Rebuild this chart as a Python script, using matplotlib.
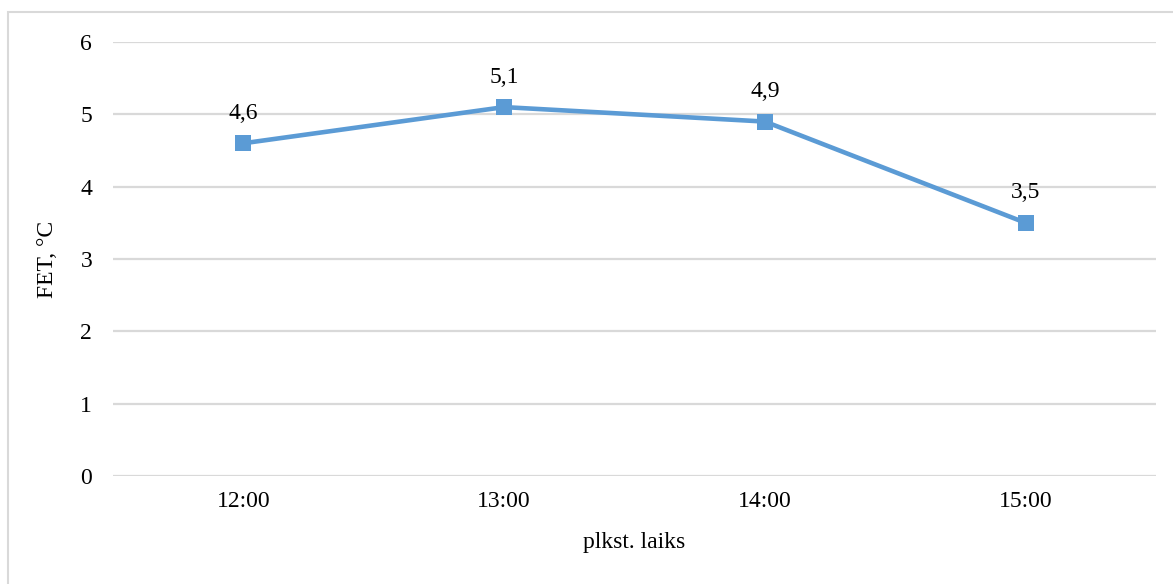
import matplotlib
matplotlib.use("Agg")
import matplotlib.pyplot as plt
from matplotlib.patches import Rectangle

times = ["12:00", "13:00", "14:00", "15:00"]
fet_values = [4.6, 5.1, 4.9, 3.5]
y_ticks = [0, 1, 2, 3, 4, 5, 6]

line_color = "#5B9BD5"
grid_color = "#D9D9D9"
fs = 17

plt.rcParams["font.family"] = ["Liberation Serif", "DejaVu Serif"]

W, H, DPI = 1173, 584, 100
fig = plt.figure(figsize=(W / DPI, H / DPI), dpi=DPI)
ax = fig.add_axes([113 / W, 1 - 476 / H, (1156 - 113) / W, (476 - 42) / H])

x = list(range(len(times)))
ax.plot(x, fet_values, color=line_color, lw=3.3, marker="s", markersize=12,
        markeredgewidth=0, solid_capstyle="round", zorder=3)

for xi, v in zip(x, fet_values):
    ax.annotate(f"{v:.1f}".replace(".", ","), (xi, v), xytext=(0, 14),
                textcoords="offset points", ha="center", va="bottom",
                fontsize=fs, color="#000000")

ax.set_xlim(-0.5, len(times) - 0.5)
ax.set_ylim(0, 6)
ax.set_yticks(y_ticks)
ax.set_xticks(x)
ax.set_xticklabels(times)
ax.yaxis.grid(True, color=grid_color, lw=1.6)
ax.set_axisbelow(True)
for s in ax.spines.values():
    s.set_visible(False)
ax.tick_params(axis="both", length=0, labelsize=fs, colors="#000000")
ax.tick_params(axis="y", pad=15)
ax.tick_params(axis="x", pad=11)

ax.set_xlabel("plkst. laiks", fontsize=fs, labelpad=14)
ax.set_ylabel("FET, °C", fontsize=fs, labelpad=16)

# chart frame
fig.patches.append(Rectangle((8 / W, -0.05), 1.2, 1 - 12 / H + 0.05,
                             transform=fig.transFigure, fill=False,
                             edgecolor=grid_color, lw=1.5))

fig.savefig("out.png", dpi=DPI)
